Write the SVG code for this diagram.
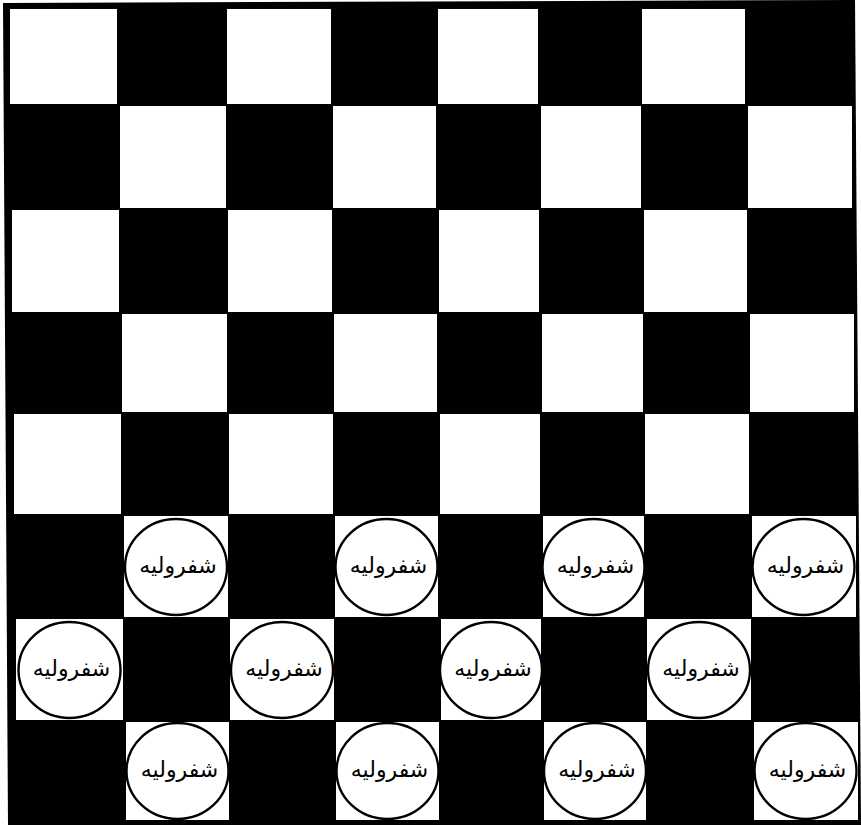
<svg xmlns="http://www.w3.org/2000/svg" width="861" height="825" viewBox="0 0 861 825">
<style>
.w{fill:#ffffff}
.pc ellipse{fill:#ffffff;stroke:#000000;stroke-width:2.4}
.pc text{font-family:"DejaVu Sans","Noto Sans",sans-serif;font-size:22px;fill:#000000;text-anchor:middle}
</style>
<rect x="0" y="0" width="861" height="825" fill="#ffffff"/>
<g id="board">
<polygon points="3,3 855,0 861,825 8,825" fill="#000000"/>
<!-- row 0 -->
<rect class="w" x="10" y="9" width="107" height="95"/>
<rect class="w" x="227" y="9" width="104" height="95"/>
<rect class="w" x="438" y="9" width="100" height="95"/>
<rect class="w" x="642" y="9" width="103" height="95"/>
<!-- row 1 -->
<rect class="w" x="120" y="106" width="106" height="102"/>
<rect class="w" x="333" y="106" width="103" height="102"/>
<rect class="w" x="541" y="106" width="100" height="102"/>
<rect class="w" x="748" y="106" width="104" height="102"/>
<!-- row 2 -->
<rect class="w" x="12" y="210" width="107" height="102"/>
<rect class="w" x="228" y="210" width="104" height="102"/>
<rect class="w" x="439" y="210" width="100" height="102"/>
<rect class="w" x="644" y="210" width="103" height="102"/>
<!-- row 3 -->
<rect class="w" x="122" y="314" width="105" height="98"/>
<rect class="w" x="334" y="314" width="103" height="98"/>
<rect class="w" x="542" y="314" width="101" height="98"/>
<rect class="w" x="750" y="314" width="104" height="98"/>
<!-- row 4 -->
<rect class="w" x="14" y="414" width="107" height="100"/>
<rect class="w" x="229" y="414" width="104" height="100"/>
<rect class="w" x="440" y="414" width="100" height="100"/>
<rect class="w" x="645" y="414" width="104" height="100"/>
<!-- row 5 -->
<rect class="w" x="124" y="516" width="104" height="101"/>
<rect class="w" x="335" y="516" width="103" height="101"/>
<rect class="w" x="543" y="516" width="101" height="101"/>
<rect class="w" x="752" y="516" width="104" height="101"/>
<!-- row 6 -->
<rect class="w" x="16" y="619" width="107" height="101"/>
<rect class="w" x="230" y="619" width="104" height="101"/>
<rect class="w" x="441" y="619" width="100" height="101"/>
<rect class="w" x="647" y="619" width="104" height="101"/>
<!-- row 7 -->
<rect class="w" x="126" y="722" width="103" height="98"/>
<rect class="w" x="336" y="722" width="103" height="98"/>
<rect class="w" x="544" y="722" width="102" height="98"/>
<rect class="w" x="754" y="722" width="104" height="98"/>
</g>
<g id="connectors"></g>
<g id="p51" class="pc"><ellipse cx="176" cy="567" rx="51" ry="48"/><text x="178" y="573">شفرولیه</text></g>
<g id="p53" class="pc"><ellipse cx="386.5" cy="567" rx="51" ry="48"/><text x="388.5" y="573">شفرولیه</text></g>
<g id="p55" class="pc"><ellipse cx="593.5" cy="567" rx="51" ry="48"/><text x="595.5" y="573">شفرولیه</text></g>
<g id="p57" class="pc"><ellipse cx="803.5" cy="567" rx="51" ry="48"/><text x="805.5" y="573">شفرولیه</text></g>
<g id="p60" class="pc"><ellipse cx="69.5" cy="670" rx="51" ry="48"/><text x="71.5" y="676">شفرولیه</text></g>
<g id="p62" class="pc"><ellipse cx="282" cy="670" rx="51" ry="48"/><text x="284" y="676">شفرولیه</text></g>
<g id="p64" class="pc"><ellipse cx="491" cy="670" rx="51" ry="48"/><text x="493" y="676">شفرولیه</text></g>
<g id="p66" class="pc"><ellipse cx="699" cy="670" rx="51" ry="48"/><text x="701" y="676">شفرولیه</text></g>
<g id="p71" class="pc"><ellipse cx="177.5" cy="771" rx="51" ry="48"/><text x="179.5" y="777">شفرولیه</text></g>
<g id="p73" class="pc"><ellipse cx="387.5" cy="771" rx="51" ry="48"/><text x="389.5" y="777">شفرولیه</text></g>
<g id="p75" class="pc"><ellipse cx="595" cy="771" rx="51" ry="48"/><text x="597" y="777">شفرولیه</text></g>
<g id="p77" class="pc"><ellipse cx="805.5" cy="771" rx="51" ry="48"/><text x="807.5" y="777">شفرولیه</text></g>
</svg>
